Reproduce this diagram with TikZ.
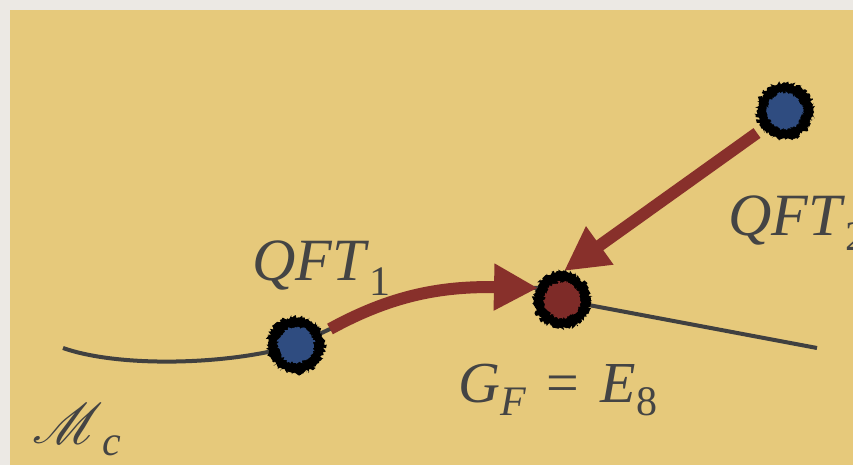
\documentclass[tikz,border=0pt]{standalone}
\usepackage{fontspec}
\setmainfont{Liberation Serif}
\usepackage{mathrsfs}
\usepackage{graphicx}
\usetikzlibrary{arrows.meta,decorations.pathmorphing}
\definecolor{bggray}{HTML}{ECE9E4}
\definecolor{bgtan}{HTML}{E6C97B}
\definecolor{curvegray}{HTML}{404040}
\definecolor{arrowred}{HTML}{88302B}
\definecolor{dotblue}{HTML}{2F4C80}
\definecolor{dotred}{HTML}{7E2B28}
\definecolor{txtgray}{HTML}{444444}
\tikzset{
  manifold/.style={draw=curvegray, line width=4pt},
  flowarrow/.style={draw=arrowred, line width=12pt, -{Triangle[length=44pt,width=44pt]}},
  fuzzyout/.style={decorate, decoration={random steps, segment length=1.2pt, amplitude=2.2pt}},
  fuzzyin/.style={decorate, decoration={random steps, segment length=1.2pt, amplitude=1.6pt}},
  lbl/.style={inner sep=0pt, text=txtgray, anchor=base west},
}
\newcommand{\fuzzydot}[2]{%
  \fill[black, fuzzyout] (#1) circle (28.5pt);
  \fill[black, fuzzyout] (#1) circle (26pt);
  \fill[#2, fuzzyin] (#1) circle (18pt);
}
\begin{document}
\begin{tikzpicture}[x=1pt,y=-1pt]
\pgfmathsetseed{11}
\fill[bggray] (0,0) rectangle (853,465);
\fill[bgtan] (10,10) rectangle (853,465);
\useasboundingbox (0,0) rectangle (853,465);

% points
\coordinate (ml) at (63,348);
\coordinate (q1) at (296,345);
\coordinate (gf) at (562,300);
\coordinate (q2) at (785,111);
\coordinate (mr) at (817,348);
\coordinate (a1s) at (330,329);
\coordinate (a1e) at (538,288);
\coordinate (a2s) at (757,133);
\coordinate (a2e) at (564,271);

% manifold curve
\draw[manifold] (ml) .. controls (120,368) and (230,365) .. (q1)
  -- (a1s) .. controls (390,296) and (440,286) .. (a1e) -- (gf) -- (mr);

% arrows
\draw[flowarrow] (a1s) .. controls (390,296) and (440,286) .. (a1e);
\draw[flowarrow] (a2s) -- (a2e);

% dots
\fuzzydot{q1}{dotblue}
\fuzzydot{gf}{dotred}
\fuzzydot{q2}{dotblue}

% labels
\node[lbl] (t1) at (252,280) {\fontsize{60}{72}\selectfont\textit{QFT}\raisebox{-15pt}{\fontsize{42}{50}\selectfont 1}};
\node[lbl] (t2) at (728,235) {\fontsize{60}{72}\selectfont\textit{QFT}\raisebox{-15pt}{\fontsize{42}{50}\selectfont 2}};
\node[lbl] (tg) at (458,402) {\fontsize{58}{70}\selectfont\textit{G}\raisebox{-13pt}{\fontsize{42}{50}\selectfont\textit{F}}\hspace{20pt}=\hspace{22pt}\textit{E}\raisebox{-13pt}{\fontsize{42}{50}\selectfont 8}};
\node[lbl] (tm) at (32,443) {\scalebox{5.7}{$\mathscr{M}$}\raisebox{-12pt}{\fontsize{42}{50}\selectfont\textit{c}}};
\end{tikzpicture}
\end{document}
